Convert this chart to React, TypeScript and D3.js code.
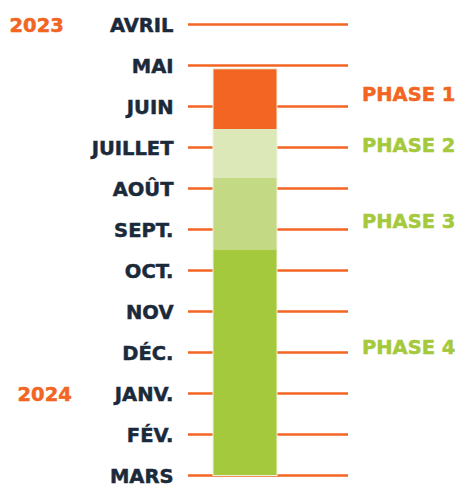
import React from "react";
import * as d3 from "d3";

const months = ["AVRIL", "MAI", "JUIN", "JUILLET", "AOÛT", "SEPT.", "OCT.", "NOV", "DÉC.", "JANV.", "FÉV.", "MARS"];
const years = [{ label: "2023", month: 0 }, { label: "2024", month: 9 }];
const phases = ["PHASE 1", "PHASE 2", "PHASE 3", "PHASE 4"];
const phaseStart = [1.08, 2.55, 3.74, 5.5];
const phaseEnd = [2.55, 3.74, 5.5, 11.0];
const phaseLabelPos = [1.7, 2.94, 4.79, 7.87];
const phaseColors = ["#F26522", "#DDE8B9", "#C3D984", "#A5C93D"];
const phaseTextColors = ["#F26522", "#A5C93D", "#A5C93D", "#A5C93D"];

export default function App() {
  const W = 460, H = 487;
  const y = d3.scaleLinear().domain([0, 11]).range([24.5, 475.5]);
  const font = "'DejaVu Sans', sans-serif";
  const fs = 19.5;
  const sw = 0.5;
  return (
    <svg width={W} height={H} style={{ position: "absolute", left: 0, top: 0 }}>
      <rect width={W} height={H} fill="#fff" />
      {months.map((m, i) => (
        <g key={m}>
          <line x1={188} x2={348} y1={y(i)} y2={y(i)} stroke="#F26522" strokeWidth={2.5} />
          <text x={173.5} y={y(i)} dy="0.36em" textAnchor="end" fontFamily={font} fontWeight={700} fontSize={fs} fill="#1B2A3A" stroke="#1B2A3A" strokeWidth={sw}>{m}</text>
        </g>
      ))}
      {years.map((yr) => (
        <text key={yr.label} x={yr.label === "2023" ? 9.5 : 17.5} y={y(yr.month)} dy="0.36em" fontFamily={font} fontWeight={700} fontSize={fs} fill="#F26522" stroke="#F26522" strokeWidth={sw}>{yr.label}</text>
      ))}
      {phases.map((p, i) => (
        <rect key={p} x={213} width={64} y={y(phaseStart[i])} height={y(phaseEnd[i]) - y(phaseStart[i])} fill={phaseColors[i]} />
      ))}
      <rect x={213} width={64} y={y(phaseStart[0])} height={y(phaseEnd[3]) - y(phaseStart[0])} fill="none" stroke="#EEF3DC" strokeWidth={1} />
      {phases.map((p, i) => (
        <text key={p} x={362} y={y(phaseLabelPos[i])} dy="0.36em" fontFamily={font} fontWeight={700} fontSize={fs} fill={phaseTextColors[i]} stroke={phaseTextColors[i]} strokeWidth={sw}>{p}</text>
      ))}
    </svg>
  );
}
